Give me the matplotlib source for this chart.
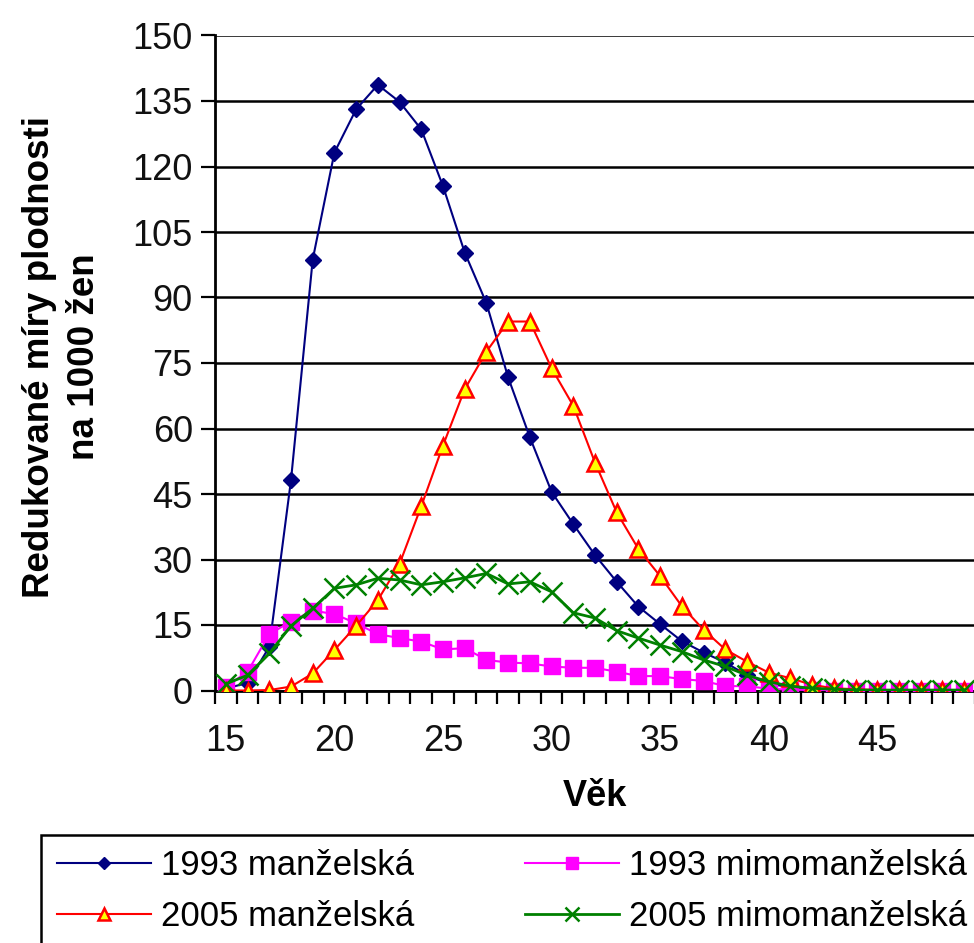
import matplotlib
matplotlib.use("Agg")
import matplotlib.pyplot as plt
from matplotlib.patches import Rectangle
from matplotlib.ticker import MultipleLocator, FixedLocator

ages = list(range(15, 50))

married_1993 = [0.5, 1.7, 10.0, 48.2, 98.7, 123.2, 133.1, 138.7, 134.8, 128.5,
                115.5, 100.3, 88.7, 71.7, 58.0, 45.5, 38.1, 31.0, 24.9, 19.2,
                15.2, 11.3, 8.7, 6.4, 3.5, 1.5, 0.8, 0.3, 0.1, 0.0,
                0.0, 0.0, 0.0, 0.0, 0.0]
unmarried_1993 = [0.9, 4.3, 12.9, 15.8, 18.3, 17.5, 15.4, 12.9, 12.0, 11.2,
                  9.4, 9.7, 7.0, 6.4, 6.2, 5.5, 5.2, 5.2, 4.3, 3.3,
                  3.3, 2.6, 2.2, 1.0, 1.0, 0.4, 0.2, 0.1, 0.0, 0.0,
                  0.0, 0.0, 0.0, 0.0, 0.0]
married_2005 = [0.0, 0.0, 0.1, 0.9, 3.9, 9.3, 14.8, 20.7, 29.0, 42.2,
                56.1, 69.0, 77.6, 84.5, 84.5, 73.8, 65.2, 52.2, 40.8, 32.4,
                26.2, 19.3, 13.9, 9.4, 6.6, 4.1, 2.8, 1.3, 0.5, 0.3,
                0.1, 0.1, 0.1, 0.1, 0.1]
unmarried_2005 = [1.5, 3.5, 8.5, 14.8, 18.8, 23.4, 24.2, 25.7, 25.3, 24.2,
                  24.9, 25.8, 26.8, 24.4, 24.9, 22.6, 17.8, 16.6, 13.7, 12.0,
                  10.4, 8.9, 7.0, 5.5, 3.5, 2.0, 1.0, 0.5, 0.3, 0.1,
                  0.1, 0.1, 0.1, 0.1, 0.1]

y_ticks = list(range(0, 151, 15))
x_labels = [15, 20, 25, 30, 35, 40, 45]

plt.rcParams["font.family"] = ["Liberation Sans", "DejaVu Sans"]

W, H = 974, 943
fig = plt.figure(figsize=(W / 100, H / 100), dpi=100)
ax = fig.add_axes([215 / W, 1 - 690.5 / H, 760 / W, 655 / H])

l1, = ax.plot(ages, married_1993, color="#000080", lw=1.5, marker="D", ms=8,
              mfc="#000080", mec="#000080", zorder=3)
l2, = ax.plot(ages, unmarried_1993, color="#FF00FF", lw=1.5, marker="s", ms=11,
              mfc="#FF00FF", mec="#FF00FF", zorder=3)
l3, = ax.plot(ages, married_2005, color="#FF0000", lw=1.5, marker="^", ms=11,
              mfc="#FFFF00", mec="#FF0000", mew=1.8, zorder=3)
l4, = ax.plot(ages, unmarried_2005, color="#008000", lw=2, marker="x", ms=14,
              mew=1.8, mec="#008000", zorder=3)

ax.set_xlim(14.5, 49.5)
ax.set_ylim(0, 150)
ax.set_yticks(y_ticks)
ax.yaxis.grid(True, color="black", lw=1.8)
ax.set_axisbelow(True)
ax.xaxis.set_major_locator(FixedLocator(x_labels))
ax.xaxis.set_minor_locator(MultipleLocator(1, offset=0.5))
ax.tick_params(axis="x", which="major", length=0, pad=24, labelsize=26)
ax.tick_params(axis="x", which="minor", length=9, width=1.6, direction="out")
ax.tick_params(axis="y", length=10, width=1.6, direction="out", pad=6, labelsize=26)
for lbl in ax.get_yticklabels() + ax.get_xticklabels():
    lbl.set_color("#111111")

ax.spines["top"].set_visible(False)
ax.spines["right"].set_visible(False)
ax.spines["left"].set_linewidth(2)
ax.spines["bottom"].set_linewidth(2)

fig.text(595 / W, 1 - 797 / H, "Věk", ha="center", va="center",
         fontsize=26, fontweight="bold")
fig.text(62 / W, 1 - 357 / H, "Redukované míry plodnosti\nna 1000 žen",
         rotation=90, ha="center", va="center", multialignment="center",
         fontsize=26.5, fontweight="bold", linespacing=1.4)

# legend frame runs past the right and bottom edges, as in the cropped original
fig.add_artist(Rectangle((40.5 / W, -0.05), 1.1, (1 - 835 / H) + 0.05,
                         transform=fig.transFigure, fill=False,
                         edgecolor="black", lw=1.8))
leg_kw = dict(loc="upper left", frameon=False, handlelength=2.7,
              handletextpad=0.3, labelspacing=0.52, borderpad=0,
              borderaxespad=0, fontsize=25, markerscale=0.75)
fig.legend([l1, l3], ["1993 manželská", "2005 manželská"],
           bbox_to_anchor=(57 / W, 1 - 849 / H), **leg_kw)
fig.legend([l2, l4], ["1993 mimomanželská", "2005 mimomanželská"],
           bbox_to_anchor=(525 / W, 1 - 849 / H), **leg_kw)

fig.savefig("out.png", dpi=100)
